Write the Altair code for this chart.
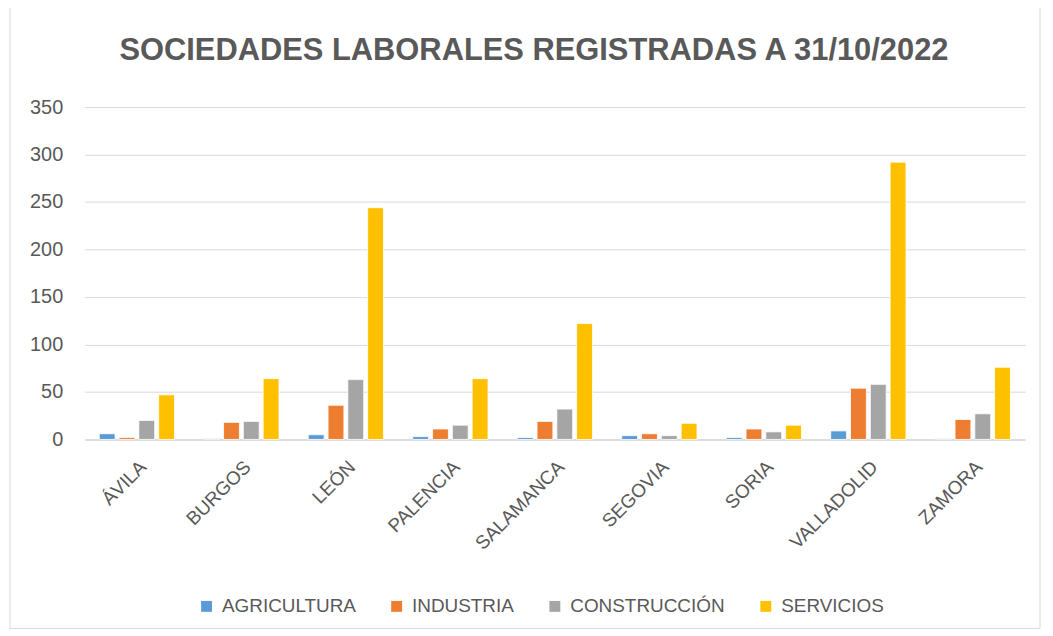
import altair as alt
import pandas as pd

provincias = ["ÁVILA", "BURGOS", "LEÓN", "PALENCIA", "SALAMANCA", "SEGOVIA", "SORIA", "VALLADOLID", "ZAMORA"]
sectores = ["AGRICULTURA", "INDUSTRIA", "CONSTRUCCIÓN", "SERVICIOS"]
agricultura = [6, 1, 5, 3, 2, 4, 2, 9, 1]
industria = [2, 18, 36, 11, 19, 6, 11, 54, 21]
construccion = [20, 19, 63, 15, 32, 4, 8, 58, 27]
servicios = [47, 64, 244, 64, 122, 17, 15, 292, 76]
colores = ["#5B9BD5", "#ED7D31", "#A5A5A5", "#FFC000"]

rows = []
for s, vals in zip(sectores, [agricultura, industria, construccion, servicios]):
    for p, v in zip(provincias, vals):
        rows.append({"provincia": p, "sector": s, "valor": v})
df = pd.DataFrame(rows)

FONT = "Liberation Sans"
GRAY = "#595959"
W, H = 945, 334

bars = alt.Chart(df).mark_bar(stroke="white", strokeWidth=0.8).encode(
    x=alt.X("provincia:N", sort=provincias, title=None,
            scale=alt.Scale(paddingInner=0.28, paddingOuter=0.14),
            axis=alt.Axis(labelAngle=-45, labelAlign="right", labelBaseline="top",
                          labelFontSize=19, labelColor=GRAY, labelFont=FONT,
                          ticks=False, domainColor="#d9d9d9", domainWidth=1.5,
                          labelPadding=18)),
    xOffset=alt.XOffset("sector:N", sort=sectores, scale=alt.Scale(paddingInner=0.2)),
    y=alt.Y("valor:Q", title=None,
            scale=alt.Scale(domain=[0, 350]),
            axis=alt.Axis(values=[0, 50, 100, 150, 200, 250, 300, 350], domain=False, ticks=False,
                          labelFontSize=20, labelColor=GRAY, labelFont=FONT,
                          gridColor="#d9d9d9", gridWidth=1, labelPadding=22)),
    color=alt.Color("sector:N", sort=sectores,
                    scale=alt.Scale(domain=sectores, range=colores),
                    legend=alt.Legend(title=None, orient="none", direction="horizontal",
                                      legendX=113, legendY=492,
                                      symbolType="square", symbolSize=120, symbolStrokeWidth=0,
                                      labelFontSize=19, labelColor=GRAY, labelFont=FONT,
                                      columnPadding=31, symbolOffset=0, labelOffset=6)),
)

border = alt.Chart(pd.DataFrame({"a": [0]})).mark_rect(fill=None, stroke="#d9d9d9", strokeWidth=1).encode(
    x=alt.value(-75), x2=alt.value(W + 15), y=alt.value(-106), y2=alt.value(H + 190)
)

chart = alt.layer(border, bars).properties(
    width=W, height=H,
    padding={"left": 77, "top": 98, "right": 20, "bottom": 200},
    autosize="none",
    background="white",
    title=alt.TitleParams("SOCIEDADES LABORALES REGISTRADAS A 31/10/2022",
                          font=FONT, fontSize=31, fontWeight="bold", color=GRAY,
                          anchor="middle", dx=-21, offset=-66),
).configure_view(stroke="transparent", strokeWidth=0)

chart.save("out.html", embed_options={"renderer": "svg", "actions": False})
